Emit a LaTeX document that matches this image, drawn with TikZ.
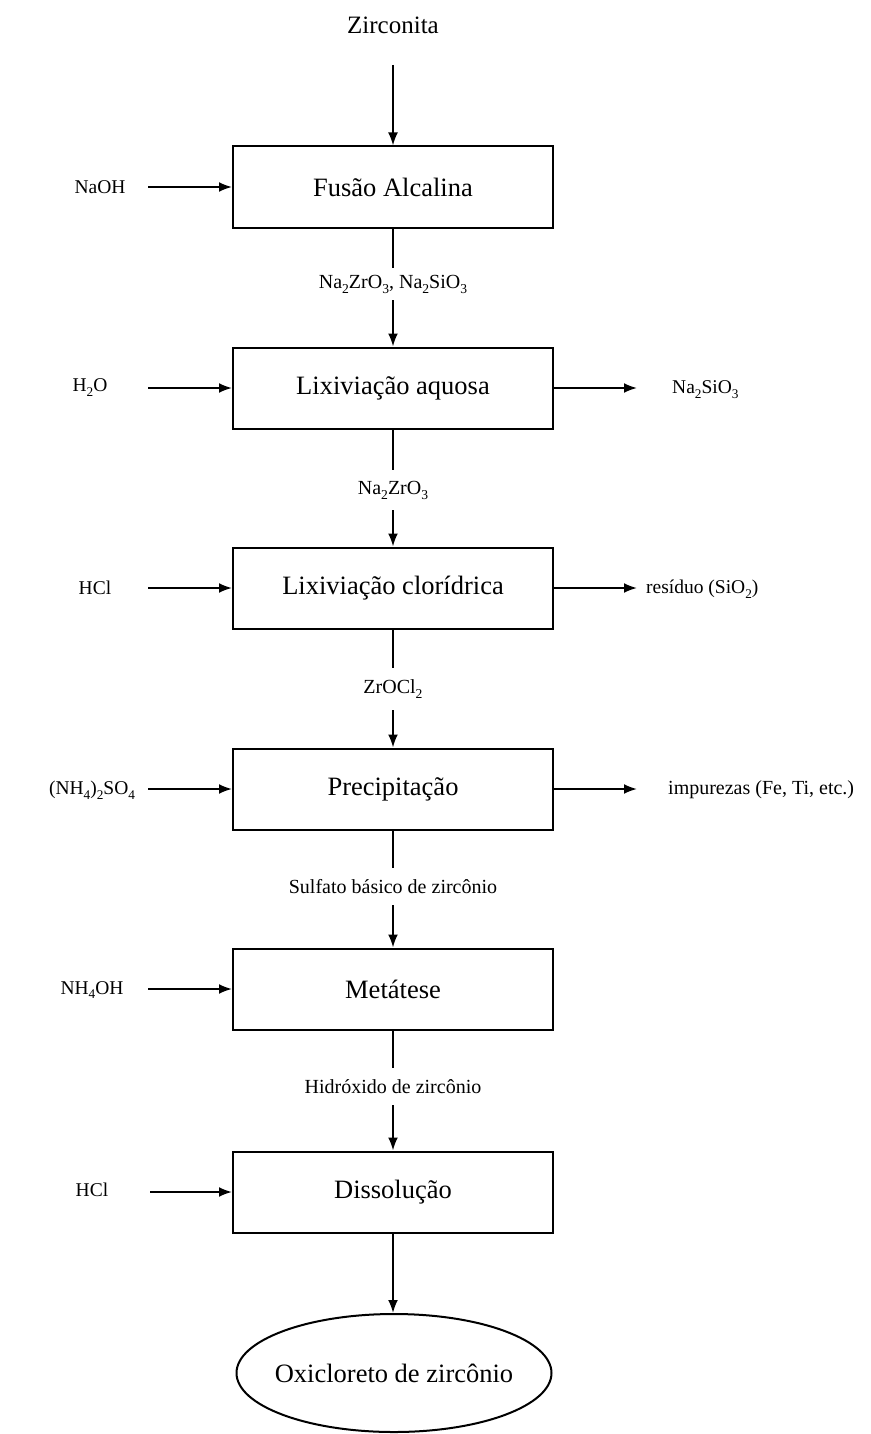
\documentclass[tikz,border=0pt]{standalone}
\usepackage{fontspec}
\setmainfont{Liberation Serif}
\usetikzlibrary{arrows.meta,shapes.geometric}
\newcommand{\dn}[1]{\raisebox{-0.55ex}{\scalebox{0.68}{#1}}}
\begin{document}
\begin{tikzpicture}[x=1pt,y=-1pt,
  box/.style={draw,line width=2pt,minimum width=320pt,minimum height=81pt,inner sep=0pt,font=\fontsize{26.5}{30}\selectfont},
  final/.style={draw,ellipse,line width=2pt,minimum width=315pt,minimum height=118pt,inner sep=0pt,font=\fontsize{26.5}{30}\selectfont},
  side/.style={inner sep=0pt,font=\fontsize{19.5}{22}\selectfont},
  mid/.style={inner sep=0pt,font=\fontsize{20}{23}\selectfont},
  flow/.style={line width=2pt},
  arr/.style={line width=2pt,-{Latex[length=13pt,width=10pt]}}
]
\useasboundingbox (0,0) rectangle (870,1434);
\fill[white] (0,0) rectangle (870,1434);

% main boxes
\node[box] (b1) at (393,187) {Fusão Alcalina};
\node[box] (b2) at (393,388) {Lixiviação aquosa};
\node[box] (b3) at (393,588) {Lixiviação clorídrica};
\node[box] (b4) at (393,789) {Precipitação};
\node[box] (b5) at (393,989) {Metátese};
\node[box] (b6) at (393,1192) {Dissolução};
\node[final] (f) at (394,1373) {\makebox[0pt]{Oxicloreto de zircônio}};

% top input
\node[inner sep=0pt,font=\fontsize{25}{28}\selectfont] (zr) at (393,25) {Zirconita};
\coordinate (z0) at (393,65);
\draw[arr] (z0) -- (b1.north);

% middle labels
\node[mid,minimum height=32pt] (m1) at (393,284) {Na\dn{2}ZrO\dn{3}, Na\dn{2}SiO\dn{3}};
\node[mid,minimum height=40pt] (m2) at (393,490) {Na\dn{2}ZrO\dn{3}};
\node[mid,minimum height=42pt] (m3) at (393,689) {ZrOCl\dn{2}};
\node[mid,minimum height=37pt] (m4) at (393,886.5) {Sulfato básico de zircônio};
\node[mid,minimum height=37pt] (m5) at (393,1086.5) {Hidróxido de zircônio};

\draw[flow] (b1.south) -- (m1.north);
\draw[arr] (m1.south) -- (b2.north);
\draw[flow] (b2.south) -- (m2.north);
\draw[arr] (m2.south) -- (b3.north);
\draw[flow] (b3.south) -- (m3.north);
\draw[arr] (m3.south) -- (b4.north);
\draw[flow] (b4.south) -- (m4.north);
\draw[arr] (m4.south) -- (b5.north);
\draw[flow] (b5.south) -- (m5.north);
\draw[arr] (m5.south) -- (b6.north);
\draw[arr] (b6.south) -- (f.north -| b6.south);

% left inputs
\node[side] (i1) at (100,187) {NaOH};
\node[side] (i2) at (90,388) {H\dn{2}O};
\node[side] (i3) at (95,588) {HCl};
\node[side] (i4) at (92,790) {(NH\dn{4})\dn{2}SO\dn{4}};
\node[side] (i5) at (92,990) {NH\dn{4}OH};
\node[side] (i6) at (92,1190) {HCl};
\coordinate (t1) at (148,187);
\coordinate (t2) at (148,388);
\coordinate (t3) at (148,588);
\coordinate (t4) at (148,789);
\coordinate (t5) at (148,989);
\coordinate (t6) at (150,1192);
\draw[arr] (t1) -- (b1.west);
\draw[arr] (t2) -- (b2.west);
\draw[arr] (t3) -- (b3.west);
\draw[arr] (t4) -- (b4.west);
\draw[arr] (t5) -- (b5.west);
\draw[arr] (t6) -- (b6.west);

% right outputs
\coordinate (r2) at (637,388);
\coordinate (r3) at (637,588);
\coordinate (r4) at (637,789);
\node[side,anchor=west] (o2) at (672,390) {Na\dn{2}SiO\dn{3}};
\node[side,anchor=west] (o3) at (646,589) {resíduo (SiO\dn{2})};
\node[side,anchor=west,font=\fontsize{20}{23}\selectfont] (o4) at (668,790) {impurezas (Fe, Ti, etc.)};
\draw[arr] (b2.east) -- (r2);
\draw[arr] (b3.east) -- (r3);
\draw[arr] (b4.east) -- (r4);
\end{tikzpicture}
\end{document}
